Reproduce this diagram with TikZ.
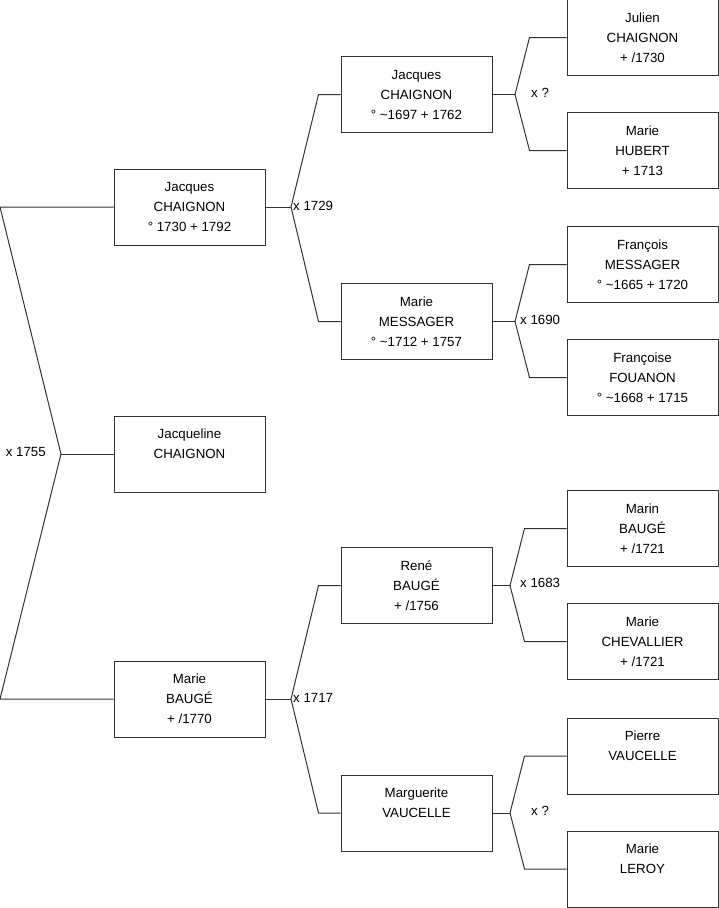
\documentclass[tikz,border=0pt]{standalone}
\usepackage{fontspec}
\setmainfont{Liberation Sans}
\usepackage{xcolor}
\usepackage{tikz}
\usetikzlibrary{positioning}

\begin{document}
\begin{tikzpicture}[
    x=1pt, y=-1pt,
    person/.style={draw=black!80, line width=1pt, minimum width=151pt, minimum height=76pt, inner sep=0pt, align=center, font=\fontsize{13.3}{20}\selectfont},
    link/.style={draw=black!80, line width=1pt},
    wed/.style={inner sep=0pt, anchor=west, font=\fontsize{13.3}{16}\selectfont},
]
\useasboundingbox (0,0) rectangle (719,908);

% children generation
\node[person] (jacques) at (189.5,207) {Jacques\\CHAIGNON\\° 1730 + 1792};
\node[person] (jacqueline) at (189.5,454) {Jacqueline\\CHAIGNON\\\phantom{0}};
\node[person] (marieb) at (189.5,699) {Marie\\BAUGÉ\\+ /1770};

% parents
\node[person] (jacquesp) at (416.5,94.5) {Jacques\\CHAIGNON\\° \textasciitilde1697 + 1762};
\node[person] (mariem) at (416.5,321.5) {Marie\\MESSAGER\\° \textasciitilde1712 + 1757};
\node[person] (rene) at (416.5,585.5) {René\\BAUGÉ\\+ /1756};
\node[person] (marguerite) at (416.5,813) {Marguerite\\VAUCELLE\\\phantom{0}};

% grandparents
\node[person] (julien) at (642.5,37.5) {Julien\\CHAIGNON\\+ /1730};
\node[person] (hubert) at (642.5,150.5) {Marie\\HUBERT\\+ 1713};
\node[person] (francois) at (642.5,264.5) {François\\MESSAGER\\° \textasciitilde1665 + 1720};
\node[person] (francoise) at (642.5,377.5) {Françoise\\FOUANON\\° \textasciitilde1668 + 1715};
\node[person] (marin) at (642.5,528.5) {Marin\\BAUGÉ\\+ /1721};
\node[person] (chevallier) at (642.5,641.5) {Marie\\CHEVALLIER\\+ /1721};
\node[person] (pierre) at (642.5,756) {Pierre\\VAUCELLE\\\phantom{0}};
\node[person] (leroy) at (642.5,869) {Marie\\LEROY\\\phantom{0}};

% marriage forks
\coordinate (m1755) at (61,454);
\coordinate (m1729) at (291,207);
\coordinate (m1717) at (291,699);
\coordinate (mjacques) at (515,94.5);
\coordinate (m1690) at (515,321.5);
\coordinate (m1683) at (510,585.5);
\coordinate (mvaucelle) at (510,813);
\coordinate (left) at (0,0);

\draw[link] (jacques.west) -- (left |- jacques.west) -- (m1755) -- (left |- marieb.west) -- (marieb.west);
\draw[link] (jacqueline.west) -- (m1755);

\draw[link] (jacques.east) -- (m1729);
\draw[link] (jacquesp.west) -- ++(-22,0) -- (m1729);
\draw[link] (mariem.west) -- ++(-22,0) -- (m1729);
\draw[link] (marieb.east) -- (m1717);
\draw[link] (rene.west) -- ++(-22,0) -- (m1717);
\draw[link] (marguerite.west) -- ++(-22,0) -- (m1717);

\draw[link] (jacquesp.east) -- (mjacques);
\draw[link] (julien.west) -- ++(-37,0) -- (mjacques);
\draw[link] (hubert.west) -- ++(-37,0) -- (mjacques);
\draw[link] (mariem.east) -- (m1690);
\draw[link] (francois.west) -- ++(-37,0) -- (m1690);
\draw[link] (francoise.west) -- ++(-37,0) -- (m1690);
\draw[link] (rene.east) -- (m1683);
\draw[link] (marin.west) -- ++(-42,0) -- (m1683);
\draw[link] (chevallier.west) -- ++(-42,0) -- (m1683);
\draw[link] (marguerite.east) -- (mvaucelle);
\draw[link] (pierre.west) -- ++(-42,0) -- (mvaucelle);
\draw[link] (leroy.west) -- ++(-42,0) -- (mvaucelle);

% marriage labels
\node[wed, anchor=east] (w1755) at (46,452) {x 1755};
\node[wed] (w1729) at (293,206) {x 1729};
\node[wed] (w1717) at (293,698) {x 1717};
\node[wed] (wjacques) at (531,93) {x ?};
\node[wed] (w1690) at (520,320) {x 1690};
\node[wed] (w1683) at (520,583) {x 1683};
\node[wed] (wvaucelle) at (531,811) {x ?};
\end{tikzpicture}
\end{document}
